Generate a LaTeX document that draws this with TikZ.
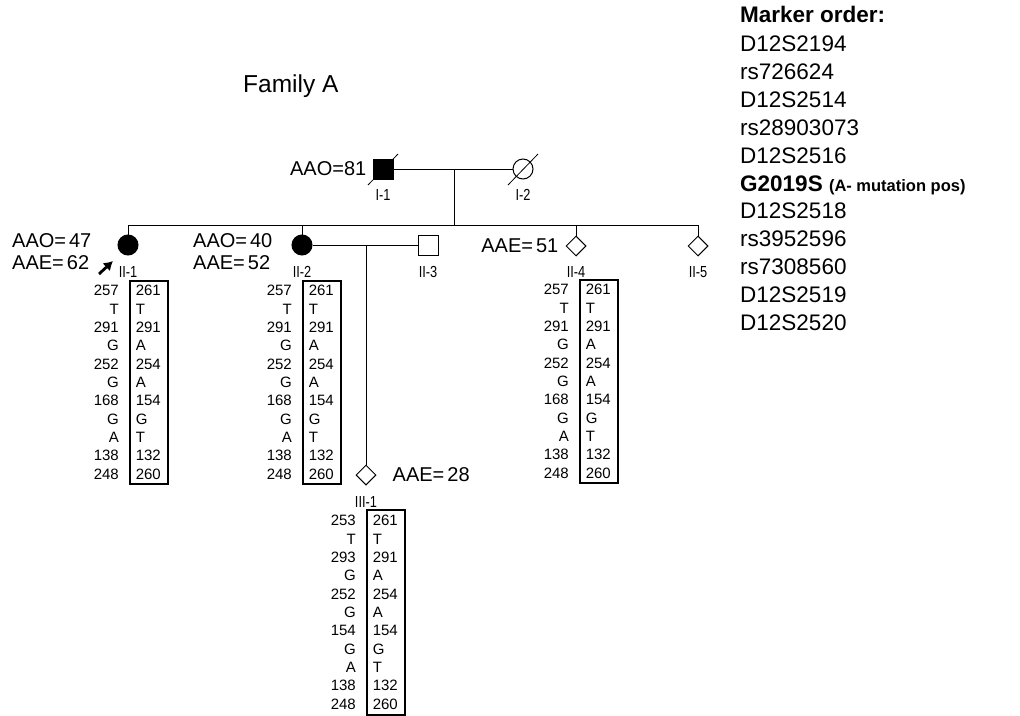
\documentclass[tikz,border=0pt]{standalone}
\usepackage{fontspec}
\setmainfont{Liberation Sans}
\newfontfamily\narrowfont[FakeStretch=0.8]{Liberation Sans}
\usepackage{tikz}
\usetikzlibrary{positioning, arrows.meta, shapes.geometric}
\tikzset{>=latex}
\tikzset{
    person/.style={draw, line width=1pt, inner sep=0pt, minimum size=20pt},
    male/.style={person, rectangle},
    female/.style={person, circle},
    unknown/.style={person, diamond},
    affected/.style={fill=black},
    pedline/.style={line width=1pt},
    deceased/.style={line width=0.8pt},
    idlabel/.style={inner sep=0pt, font=\narrowfont\fontsize{16}{16}\selectfont},
    agetext/.style={inner sep=0pt, text depth=0pt, font=\fontsize{20}{22}\selectfont},
    hapbox/.style={draw, line width=1.6pt, inner xsep=6pt, inner ysep=0pt, text width=26pt,
        minimum height=203pt, align=left, anchor=north west, font=\fontsize{15}{18.35}\selectfont},
    hapleft/.style={inner sep=0pt, align=right, anchor=east, font=\fontsize{15}{18.35}\selectfont},
}

\begin{document}
\begin{tikzpicture}[x=1pt, y=-1pt]
    \useasboundingbox (0,0) rectangle (1020,715);

    \node[anchor=west, inner sep=0pt, text depth=0pt, font=\fontsize{24.5}{28}\selectfont] (family) at (243,84) {Family A};

    \node[anchor=north west, inner sep=0pt, align=left, font=\fontsize{22.5}{27.85}\selectfont] (markers) at (740,5.5) {
        \textbf{Marker order:}\\[2pt]
        D12S2194\\
        rs726624\\
        D12S2514\\
        rs28903073\\
        D12S2516\\
        \textbf{G2019S} {\fontsize{16.5}{18}\selectfont\textbf{(A- mutation pos)}}\\
        D12S2518\\
        rs3952596\\
        rs7308560\\
        D12S2519\\
        D12S2520
    };

    \node[male, affected] (i1) at (383,169) {};
    \node[female] (i2) at (523,169) {};
    \node[female, affected] (ii1) at (128,245) {};
    \node[female, affected] (ii2) at (302,245) {};
    \node[male] (ii3) at (428,245) {};
    \node[unknown] (ii4) at (576,246) {};
    \node[unknown] (ii5) at (698,246) {};
    \node[unknown] (iii1) at (366,475) {};

    \coordinate (m1) at (454,169);
    \coordinate (sib) at (454,225);
    \draw[pedline] (i1) -- (i2);
    \draw[pedline] (m1) -- (sib);
    \draw[pedline] (ii1.north |- sib) -- (ii5.north |- sib);
    \foreach \k in {ii1, ii2, ii4, ii5}
        \draw[pedline] (\k.north |- sib) -- (\k.north);
    \draw[pedline] (ii2) -- (ii3);
    \draw[pedline] (iii1.north |- ii2) -- (iii1.north);

    \draw[deceased] ([shift={(-15,16)}]i1.center) -- ([shift={(15,-15)}]i1.center);
    \draw[deceased] ([shift={(-15,16)}]i2.center) -- ([shift={(15,-15)}]i2.center);

    \node[idlabel] (lbl-i1) at ([yshift=-26pt]i1.center) {I-1};
    \node[idlabel] (lbl-i2) at ([yshift=-26pt]i2.center) {I-2};
    \node[idlabel] (lbl-ii1) at ([yshift=-27pt]ii1.center) {II-1};
    \node[idlabel] (lbl-ii2) at ([yshift=-27pt]ii2.center) {II-2};
    \node[idlabel] (lbl-ii3) at ([yshift=-27pt]ii3.center) {II-3};
    \node[idlabel] (lbl-ii4) at ([yshift=-26pt]ii4.center) {II-4};
    \node[idlabel] (lbl-ii5) at ([yshift=-26pt]ii5.center) {II-5};
    \node[idlabel] (lbl-iii1) at ([yshift=-27pt]iii1.center) {III-1};

    \node[agetext, left=6pt of i1] (aao-i1) {AAO=81};
    \node[agetext, anchor=west] (aao-ii1) at (12,241) {AAO=\hspace{3pt}47};
    \node[agetext, anchor=west] (aae-ii1) at (12,263) {AAE=\hspace{3pt}62};
    \node[agetext, anchor=west] (aao-ii2) at (193,241) {AAO=\hspace{3pt}40};
    \node[agetext, anchor=west] (aae-ii2) at (193,263) {AAE=\hspace{3pt}52};
    \node[agetext, left=7pt of ii4] (aae-ii4) {AAE=\hspace{3pt}51};
    \node[agetext, right=16pt of iii1] (aae-iii1) {AAE=\hspace{3pt}28};

    \coordinate (prb-tail) at (99,274);
    \coordinate (prb-head) at (113,261);
    \draw[-{Latex[length=9pt, width=11pt]}, line width=2.8pt] (prb-tail) -- (prb-head);

    \node[hapbox] (hap-ii1) at (129,280) {261\\T\\291\\A\\254\\A\\154\\G\\T\\132\\260};
    \node[hapleft] (hapl-ii1) at ([xshift=-10pt]hap-ii1.west) {257\\T\\291\\G\\252\\G\\168\\G\\A\\138\\248};
    \node[hapbox] (hap-ii2) at (302,280) {261\\T\\291\\A\\254\\A\\154\\G\\T\\132\\260};
    \node[hapleft] (hapl-ii2) at ([xshift=-10pt]hap-ii2.west) {257\\T\\291\\G\\252\\G\\168\\G\\A\\138\\248};
    \node[hapbox] (hap-ii4) at (579,279) {261\\T\\291\\A\\254\\A\\154\\G\\T\\132\\260};
    \node[hapleft] (hapl-ii4) at ([xshift=-10pt]hap-ii4.west) {257\\T\\291\\G\\252\\G\\168\\G\\A\\138\\248};
    \node[hapbox, minimum height=205pt] (hap-iii1) at (366,509) {261\\T\\291\\A\\254\\A\\154\\G\\T\\132\\260};
    \node[hapleft] (hapl-iii1) at ([xshift=-10pt]hap-iii1.west) {253\\T\\293\\G\\252\\G\\154\\G\\A\\138\\248};
\end{tikzpicture}
\end{document}
